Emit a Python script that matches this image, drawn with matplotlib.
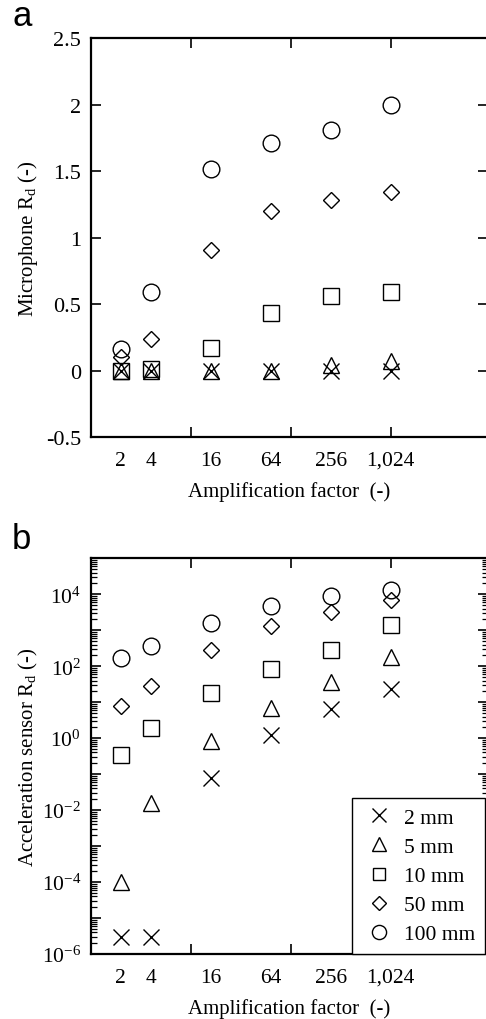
import numpy as np
import matplotlib
matplotlib.use('Agg')
import matplotlib.pyplot as plt
from matplotlib.ticker import FixedLocator, FuncFormatter, LogLocator, NullFormatter

plt.rcParams['font.family'] = 'serif'
plt.rcParams['font.serif'] = ['Liberation Serif', 'DejaVu Serif']
plt.rcParams['mathtext.fontset'] = 'custom'
plt.rcParams['mathtext.rm'] = 'Liberation Serif'
plt.rcParams['mathtext.it'] = 'Liberation Serif:italic'

# amplification factors (x)
amps = [2, 4, 16, 64, 256, 1024]
amp_labels = ['2', '4', '16', '64', '256', '1,024']

# series (distance)
series_labels = ['2 mm', '5 mm', '10 mm', '50 mm', '100 mm']
markers = ['x', '^', 's', 'D', 'o']
msizes = [12, 12, 11, 8, 12]

# (a) microphone Rd
mic_2mm = [0.0, 0.0, 0.0, 0.0, 0.0, 0.0]
mic_5mm = [0.0, 0.0, 0.0, 0.0, 0.04, 0.07]
mic_10mm = [0.0, 0.01, 0.17, 0.43, 0.56, 0.59]
mic_50mm = [0.10, 0.24, 0.91, 1.20, 1.28, 1.34]
mic_100mm = [0.16, 0.59, 1.52, 1.71, 1.81, 2.0]

# (b) acceleration sensor Rd
acc_2mm = [3e-6, 3e-6, 0.076, 1.2, 6.4, 23]
acc_5mm = [1e-4, 0.016, 0.85, 6.8, 37, 185]
acc_10mm = [0.35, 1.9, 18, 83, 280, 1400]
acc_50mm = [7.9, 28, 280, 1300, 3200, 6800]
acc_100mm = [170, 365, 1600, 4700, 8700, 13000]

mic = [mic_2mm, mic_5mm, mic_10mm, mic_50mm, mic_100mm]
acc = [acc_2mm, acc_5mm, acc_10mm, acc_50mm, acc_100mm]

fig = plt.figure(figsize=(4.86, 10.2), dpi=100)
W, H = 486.0, 1020.0
left, right = 90.7, 488.0
ax1 = fig.add_axes([left / W, 1 - 438 / H, (right - left) / W, (438 - 39.3) / H])
ax2 = fig.add_axes([left / W, 1 - 955 / H, (right - left) / W, (955 - 559.3) / H])

xmax = 2 ** ((right - left) / 30.0)


def style_x(ax):
    ax.set_xscale('log', base=2)
    ax.set_xlim(1, xmax)
    ax.xaxis.remove_overlapping_locs = False
    ax.xaxis.set_major_locator(FixedLocator(amps))
    ax.set_xticklabels(amp_labels)
    ax.xaxis.set_minor_locator(FixedLocator([2 ** (10 / 3), 2 ** (20 / 3), 2 ** 10]))
    ax.xaxis.set_minor_formatter(NullFormatter())
    ax.tick_params(axis='x', which='major', length=0, pad=10, labelsize=15.5)
    ax.tick_params(axis='x', which='minor', direction='in', length=7, width=1.2,
                   top=True, bottom=True)
    ax.set_xlabel('Amplification factor  (-)', fontsize=15, labelpad=8)
    for s in ax.spines.values():
        s.set_linewidth(1.6)


for ys, m, ms in zip(mic, markers, msizes):
    ax1.plot(amps, ys, linestyle='none', marker=m, ms=ms, mfc='none', mec='black', mew=1.0)
style_x(ax1)
ax1.set_ylim(-0.5, 2.5)
ax1.set_yticks(np.arange(-0.5, 2.51, 0.5))
ax1.set_yticklabels(['-0.5', '0', '0.5', '1', '1.5', '2', '2.5'])
ax1.tick_params(axis='y', direction='in', length=7, width=1.2, left=True, right=True,
                labelsize=16, pad=7)
ax1.set_ylabel('Microphone R$_\\mathrm{d}$ (-)', fontsize=15, labelpad=4)

for ys, m, ms, lab in zip(acc, markers, msizes, series_labels):
    ax2.plot(amps, ys, linestyle='none', marker=m, ms=ms, mfc='none', mec='black', mew=1.0,
             label=lab)
style_x(ax2)
ax2.set_yscale('log')
ax2.set_ylim(1e-6, 1e5)
ax2.yaxis.set_major_locator(LogLocator(base=10, numticks=30))
ax2.yaxis.set_minor_locator(LogLocator(base=10, subs=np.arange(2, 10), numticks=30))
ax2.yaxis.set_minor_formatter(NullFormatter())


def dec_fmt(v, pos):
    e = int(round(np.log10(v)))
    if e % 2 == 0 and e <= 4:
        return '$10^{%d}$' % e
    return ''


ax2.yaxis.set_major_formatter(FuncFormatter(dec_fmt))
ax2.tick_params(axis='y', which='major', direction='in', length=7, width=1.2,
                left=True, right=True, labelsize=15.5, pad=7)
ax2.tick_params(axis='y', which='minor', direction='in', length=4, width=0.9,
                left=True, right=True)
ax2.set_ylabel('Acceleration sensor R$_\\mathrm{d}$ (-)', fontsize=15, labelpad=1)

leg = ax2.legend(loc='lower left', bbox_to_anchor=(351.7 / W, 1 - 955 / H),
                 bbox_transform=fig.transFigure, fontsize=15.5, frameon=True,
                 fancybox=False, edgecolor='black', framealpha=1, borderaxespad=0,
                 handlelength=1.6, handletextpad=0.4, labelspacing=0.42, borderpad=0.45,
                 markerscale=0.85)
leg.get_frame().set_linewidth(1.0)

fig.text(12 / W, 1 - 26 / H, 'a', fontsize=25, family='Liberation Sans')
fig.text(12 / W, 1 - 549 / H, 'b', fontsize=25, family='Liberation Sans')

fig.savefig('out.png', dpi=100)
